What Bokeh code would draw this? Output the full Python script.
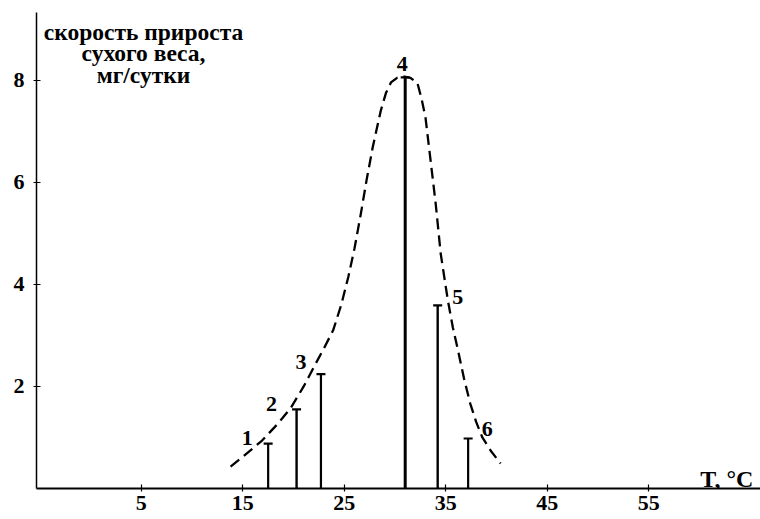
from bokeh.plotting import figure
from bokeh.models import Range1d, FixedTicker, Label, ColumnDataSource
from bokeh.core.properties import value
from bokeh.embed import file_html
from bokeh.resources import INLINE

# --- data ---
bar_labels = ["1", "2", "3", "4", "5", "6"]
bar_temp = [17.5, 20.3, 22.7, 31.0, 34.2, 37.2]
bar_rate = [0.88, 1.55, 2.24, 8.06, 3.59, 0.98]

curve_temp = [13.8, 15.0, 16.9, 18.5, 19.7, 21.0, 22.0, 23.0, 23.9, 24.7, 25.4,
              26.0, 26.6, 27.2, 27.8, 28.6, 29.1, 29.6, 30.2, 30.8, 31.5, 32.2,
              32.6, 33.0, 33.5, 34.0, 34.5, 35.2, 35.7, 36.2, 36.8, 37.4, 38.0,
              38.6, 39.5, 40.4]
curve_rate = [0.43, 0.62, 0.94, 1.28, 1.57, 2.00, 2.38, 2.75, 3.10, 3.60, 4.15,
              4.70, 5.35, 6.05, 6.69, 7.41, 7.75, 7.96, 8.05, 8.08, 8.05, 7.95,
              7.65, 7.27, 6.43, 5.59, 4.60, 3.69, 3.15, 2.71, 2.15, 1.67, 1.30,
              1.00, 0.72, 0.49]

x_ticks = [5, 15, 25, 35, 45, 55]
y_ticks = [2, 4, 6, 8]
y_title = ["скорость прироста", "сухого веса,", "мг/сутки"]
x_title = "T, °C"

FONT = "Liberation Serif"

p = figure(width=760, height=519, output_backend="svg", toolbar_location=None,
           x_range=Range1d(-5.32, 66.0), y_range=Range1d(0, 9.33),
           min_border_left=36, min_border_right=0, min_border_top=12,
           min_border_bottom=31)
p.outline_line_color = None
p.xgrid.visible = False
p.ygrid.visible = False
p.background_fill_color = "white"
p.border_fill_color = "white"

for ax in (p.xaxis[0], p.yaxis[0]):
    ax.major_label_text_font = FONT
    ax.major_label_text_font_style = "bold"
    ax.major_label_text_font_size = "22px"
    ax.major_label_text_color = "black"
    ax.axis_line_color = "black"
    ax.major_tick_line_color = "black"
    ax.minor_tick_line_color = None
    ax.major_tick_in = 4
    ax.major_tick_out = 3
    ax.major_tick_line_width = 1.2

p.xaxis.ticker = FixedTicker(ticks=x_ticks)
p.yaxis.ticker = FixedTicker(ticks=y_ticks)
p.xaxis.axis_line_width = 2
p.yaxis.axis_line_width = 1.5
p.xaxis.major_label_standoff = 4
p.yaxis.major_label_standoff = 9

# dashed curve
p.line(curve_temp, curve_rate, line_color="black", line_width=2.3, line_dash="11 6",
       line_join="round")

# bars (vertical lines with caps)
src = ColumnDataSource(dict(x=bar_temp, h=bar_rate, zero=[0] * len(bar_temp),
                            lab=bar_labels,
                            w=[2.2, 2.4, 2.2, 3, 2.4, 2.2],
                            dx=[-21, -25, -20, -3, 20, 19],
                            dy=[-6, -5, -12, -13, -8, -10]))
p.segment(x0="x", y0="zero", x1="x", y1="h", line_width="w", line_color="black", source=src)
p.dash(x="x", y="h", size=9, line_width=2.2, line_color="black", source=src)

p.text(x="x", y="h", text="lab", x_offset="dx", y_offset="dy", source=src,
       text_font=value(FONT), text_font_style="bold", text_font_size="22px",
       text_align="center", text_baseline="middle", text_color="black")

# y-axis title (three centred lines)
for line, yy in zip(y_title, [8.94, 8.53, 8.10]):
    p.add_layout(Label(x=5.22, y=yy, text=line, text_font=FONT,
                       text_font_style="bold", text_font_size="23.5px",
                       text_align="center", text_baseline="alphabetic",
                       text_color="black"))

# x-axis title
p.add_layout(Label(x=65.3, y=0.19, text=x_title, text_font=FONT,
                   text_font_style="bold", text_font_size="24px",
                   text_align="right", text_baseline="alphabetic",
                   text_color="black"))

open("out.html", "w").write(file_html(p, INLINE))
